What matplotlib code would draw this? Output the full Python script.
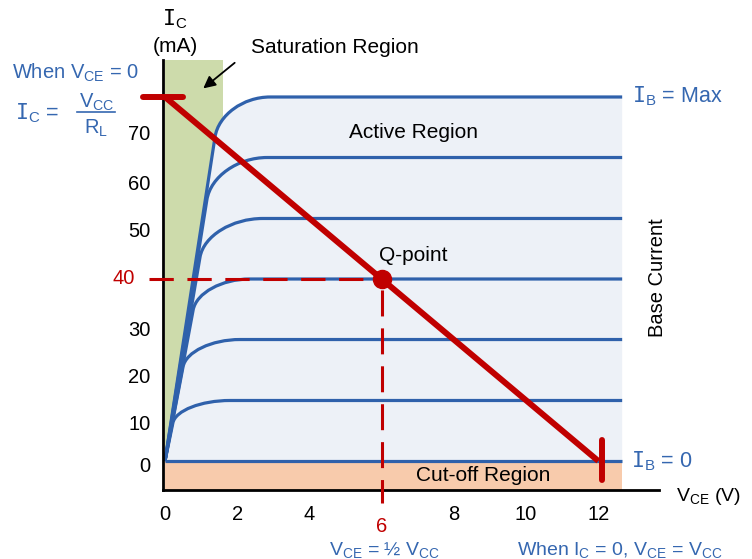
import matplotlib
matplotlib.use("Agg")
import matplotlib.pyplot as plt
from matplotlib.path import Path
from matplotlib.patches import PathPatch, Rectangle

plt.rcParams['font.family'] = ['Liberation Sans', 'DejaVu Sans']
plt.rcParams['mathtext.fontset'] = 'custom'
plt.rcParams['mathtext.rm'] = 'Liberation Sans'
plt.rcParams['mathtext.it'] = 'Liberation Sans:italic'
plt.rcParams['mathtext.tt'] = 'DejaVu Sans Mono'
plt.rcParams['lines.scale_dashes'] = False

# output characteristics (mA / V)
ib_levels = [0, 13.3, 26.7, 40, 53.3, 66.7, 80]
knee_v = [0, 0.22, 0.50, 0.78, 0.97, 1.16, 1.385]
knee_i = [0, 8.4, 20.7, 33.2, 44.8, 57.4, 71.2]
flat_v = [0, 1.80, 2.08, 2.35, 2.71, 2.83, 2.91]
vce_end = 12.66

# load line and Q-point
vcc = 12
ic_sat = 80
q_v = 6
q_i = 40

xticks = [0, 2, 4, 8, 10, 12]
ytick_pos = [-0.7, 8.4, 18.9, 29.2, 50.8, 61.3, 72.1]
ytick_labels = ['0', '10', '20', '30', '50', '60', '70']

BLUE = '#2F61AB'
TBLUE = '#3567B0'
RED = '#C00000'
GREEN = '#CDDBAB'
PEACH = '#F8CBAC'
BG = '#EDF1F7'


def curve(level, kv, ki, fv, end):
    if level == 0:
        return [(0, 0), (end, 0)], [Path.MOVETO, Path.LINETO]
    cx = kv * level / ki
    c1 = (kv + 0.55 * (cx - kv), ki + 0.55 * (level - ki))
    c2 = (fv + 0.55 * (cx - fv), level)
    verts = [(0, 0), (kv, ki), c1, c2, (fv, level), (end, level)]
    codes = [Path.MOVETO, Path.LINETO, Path.CURVE4, Path.CURVE4, Path.CURVE4, Path.LINETO]
    return verts, codes


fig = plt.figure(figsize=(7.52, 5.59), dpi=100)
ax = fig.add_axes([163 / 752, 69 / 559, 496 / 752, 430 / 559])
ax.set_xlim(-0.055, 13.68)
ax.set_ylim(-6.37, 88.13)

# regions
ax.add_patch(Rectangle((0, 0), 1.61, 89, color=GREEN, lw=0, zorder=1))
v, c = curve(ib_levels[-1], knee_v[-1], knee_i[-1], flat_v[-1], vce_end)
ax.add_patch(PathPatch(Path(v + [(vce_end, 0), (0, 0)], c + [Path.LINETO, Path.CLOSEPOLY]),
                       facecolor=BG, lw=0, zorder=1.5))
ax.add_patch(Rectangle((0, -6.37), vce_end, 6.37, color=PEACH, lw=0, zorder=1))

# base current curves
for lev, kv, ki, fv in zip(ib_levels, knee_v, knee_i, flat_v):
    v, c = curve(lev, kv, ki, fv, vce_end)
    ax.add_patch(PathPatch(Path(v, c), fill=False, edgecolor=BLUE, lw=2.3,
                           capstyle='butt', joinstyle='round', zorder=3))

# dashed projections of the Q-point
ax.plot([-0.44, q_v], [q_i, q_i], color=RED, lw=2.2, ls=(0, (17.5, 9.8)), zorder=4,
        clip_on=False)
ax.plot([q_v, q_v], [q_i, -9.2], color=RED, lw=2.2, ls=(19.4, (18.7, 8.6)),
        zorder=4, clip_on=False)

# load line
ax.plot([0, vcc], [ic_sat, 0], color=RED, lw=4.3, solid_capstyle='butt', zorder=5)
ax.plot([-0.61, 0.5], [ic_sat, ic_sat], color=RED, lw=4.3, solid_capstyle='round',
        zorder=5, clip_on=False)
ax.plot([vcc + 0.1, vcc + 0.1], [4.6, -4.2], color=RED, lw=4.3, solid_capstyle='round', zorder=5)
ax.plot([q_v], [q_i], 'o', color=RED, ms=13, zorder=6)

# axes
for s in ['top', 'right']:
    ax.spines[s].set_visible(False)
for s in ['left', 'bottom']:
    ax.spines[s].set_linewidth(2)
    ax.spines[s].set_zorder(3.5)
ax.set_xticks(xticks, [str(t) for t in xticks])
ax.set_yticks(ytick_pos, ytick_labels)
ax.tick_params(axis='x', length=0, pad=11, labelsize=14.5)
ax.tick_params(axis='y', length=0, pad=9, labelsize=14.5)
ax.text(-0.83, q_i + 0.2, '40', color=RED, fontsize=14.5, ha='right', va='center')
ax.text(q_v, -14.5, '6', color=RED, fontsize=14.5, ha='center', va='center')

# labels
ax.text(0.28, 97.2, r'$\mathtt{I}_{\mathrm{C}}$', fontsize=15.5, ha='center', va='center')
ax.text(0.28, 91.2, '(mA)', fontsize=15, ha='center', va='center')
ax.text(4.71, 90.8, 'Saturation Region', fontsize=15, ha='center', va='center')
ax.annotate('', xy=(1.0, 81.5), xytext=(1.99, 87.9),
            arrowprops=dict(arrowstyle='-|>', color='black', lw=1.3, mutation_scale=18),
            annotation_clip=False)
ax.text(-2.47, 85.3, r'When V$_{\mathrm{CE}}$ = 0', color=TBLUE, fontsize=14.5,
        ha='center', va='center')
ax.text(-3.53, 76.5, r'$\mathtt{I}_{\mathrm{C}}$ =', color=TBLUE, fontsize=15.5,
        ha='center', va='center')
ax.text(-1.88, 78.9, r'V$_{\mathrm{CC}}$', color=TBLUE, fontsize=14.5,
        ha='center', va='center')
ax.plot([-2.44, -1.39], [76.6, 76.6], color=TBLUE, lw=1.2, clip_on=False)
ax.text(-1.91, 73.2, r'R$_{\mathrm{L}}$', color=TBLUE, fontsize=14.5,
        ha='center', va='center')
ax.text(12.94, 80.2, r'$\mathtt{I}_{\mathrm{B}}$ = Max', color=TBLUE, fontsize=15.5,
        ha='left', va='center')
ax.text(12.91, 0, r'$\mathtt{I}_{\mathrm{B}}$ = 0', color=TBLUE, fontsize=15.5,
        ha='left', va='center')
ax.text(6.87, 72.3, 'Active Region', fontsize=15, ha='center', va='center', zorder=7)
ax.text(6.87, 45.1, 'Q-point', fontsize=15, ha='center', va='center', zorder=7)
ax.text(13.63, 40.2, 'Base Current', fontsize=14.5, rotation=90, ha='center', va='center')
ax.text(8.81, -3.1, 'Cut-off Region', fontsize=15, ha='center', va='center', zorder=7)
ax.text(15.04, -7.9, r'V$_{\mathrm{CE}}$ (V)', fontsize=14, ha='center', va='center')
ax.text(6.09, -19.6, r'V$_{\mathrm{CE}}$ = ½ V$_{\mathrm{CC}}$', color=TBLUE, fontsize=14,
        ha='center', va='center')
ax.text(12.6, -19.6, r'When I$_{\mathrm{C}}$ = 0, V$_{\mathrm{CE}}$ = V$_{\mathrm{CC}}$',
        color=TBLUE, fontsize=14, ha='center', va='center')

fig.savefig('out.png', dpi=100)
